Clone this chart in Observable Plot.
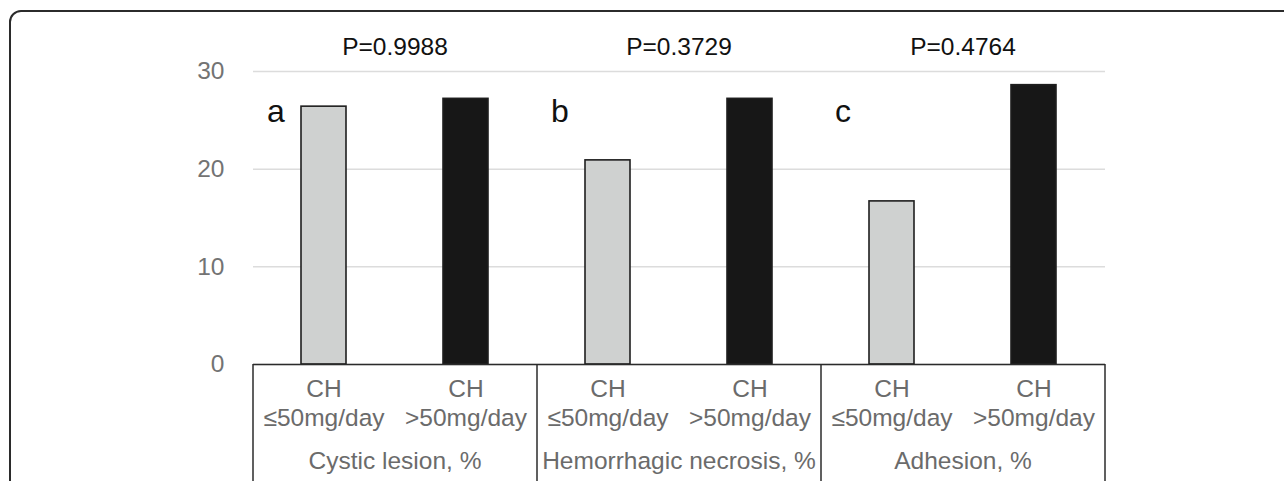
<!DOCTYPE html>
<html><head><meta charset="utf-8">
<script src="https://cdn.jsdelivr.net/npm/d3@7"></script>
<script src="https://cdn.jsdelivr.net/npm/@observablehq/plot@0.6"></script>
<style>
html,body{margin:0;padding:0;background:#fff;overflow:hidden;width:1284px;height:481px;}
#chart{position:absolute;left:0;top:0;}
#frame{position:absolute;left:9px;top:10px;width:1400px;height:600px;border:2px solid #2b2b2b;border-radius:12px;box-sizing:border-box;pointer-events:none;}
</style></head><body>
<div id="chart"></div><div id="frame"></div>
<script>
// ---- data ----
const groups = ["Cystic lesion, %", "Hemorrhagic necrosis, %", "Adhesion, %"];
const panelLetters = ["a", "b", "c"];
const pValues = ["P=0.9988", "P=0.3729", "P=0.4764"];
const doses = ["≤50mg/day", ">50mg/day"];
const lowDose = [26.4, 20.9, 16.7];
const highDose = [27.2, 27.2, 28.6];
const yTicks = [0, 10, 20, 30];

// ---- table for the library ----
const rows = [];
groups.forEach((g, i) => {
  rows.push({key: g + "|" + doses[0], group: g, dose: doses[0], value: lowDose[i]});
  rows.push({key: g + "|" + doses[1], group: g, dose: doses[1], value: highDose[i]});
});
const firstOfGroup = groups.map((g, i) => ({key: g + "|" + doses[0], group: g, letter: panelLetters[i], p: pValues[i]}));
const lastOfGroup = groups.map(g => ({key: g + "|" + doses[1]}));

const W = 1284, H = 481, mL = 253, mR = 179, mT = 71, mB = 117;
const step = (W - mL - mR) / rows.length;
const frameH = H - mT - mB;
const font = "'Liberation Sans', Arial, Helvetica, sans-serif";
const gray = "#6b6b6b";
const fs = 24.5;

const chart = Plot.plot({
  width: W, height: H,
  marginLeft: mL, marginRight: mR, marginTop: mT, marginBottom: mB,
  style: {fontFamily: font, fontSize: "24px", background: "transparent", overflow: "visible"},
  x: {domain: rows.map(d => d.key), paddingInner: 0.68, paddingOuter: 0.34, axis: null},
  y: {domain: [0, 30], axis: null},
  color: {domain: doses, range: ["#cfd1d0", "#171717"]},
  marks: [
    Plot.gridY(yTicks, {stroke: "#dcdcdc", strokeOpacity: 1, strokeWidth: 1.5}),
    Plot.axisY(yTicks, {tickSize: 0, tickPadding: 29, fontSize: fs, fill: "#737373", label: null}),
    Plot.barY(rows, {x: "key", y: "value", fill: "dose", stroke: "#1e1e1e", strokeWidth: 1.6}),
    Plot.ruleY([0], {stroke: "#2b2b2b", strokeWidth: 1.5}),
    // table verticals
    Plot.ruleX(firstOfGroup, {x: "key", dx: -step / 2, insetTop: frameH, insetBottom: -mB, stroke: "#2b2b2b", strokeWidth: 1.5}),
    Plot.ruleX(lastOfGroup.slice(-1), {x: "key", dx: step / 2, insetTop: frameH, insetBottom: -mB, stroke: "#2b2b2b", strokeWidth: 1.5}),
    // table texts
    Plot.text(rows, {x: "key", text: () => "CH", frameAnchor: "bottom", dy: 32, fontSize: fs, fill: gray}),
    Plot.text(rows, {x: "key", text: "dose", frameAnchor: "bottom", dy: 61, fontSize: fs, fill: gray}),
    Plot.text(firstOfGroup, {x: "key", text: "group", frameAnchor: "bottom", dx: step / 2, dy: 104, fontSize: fs, fill: gray}),
    // P values
    Plot.text(firstOfGroup, {x: "key", text: "p", frameAnchor: "top", dx: step / 2, dy: -34, fontSize: fs, fill: "#111"}),
    // panel letters
    Plot.text(firstOfGroup, {x: "key", text: "letter", frameAnchor: "top", textAnchor: "start", dx: -57, dy: 28, fontSize: 32, fill: "#111"})
  ]
});
document.getElementById("chart").appendChild(chart);
</script>
</body></html>
